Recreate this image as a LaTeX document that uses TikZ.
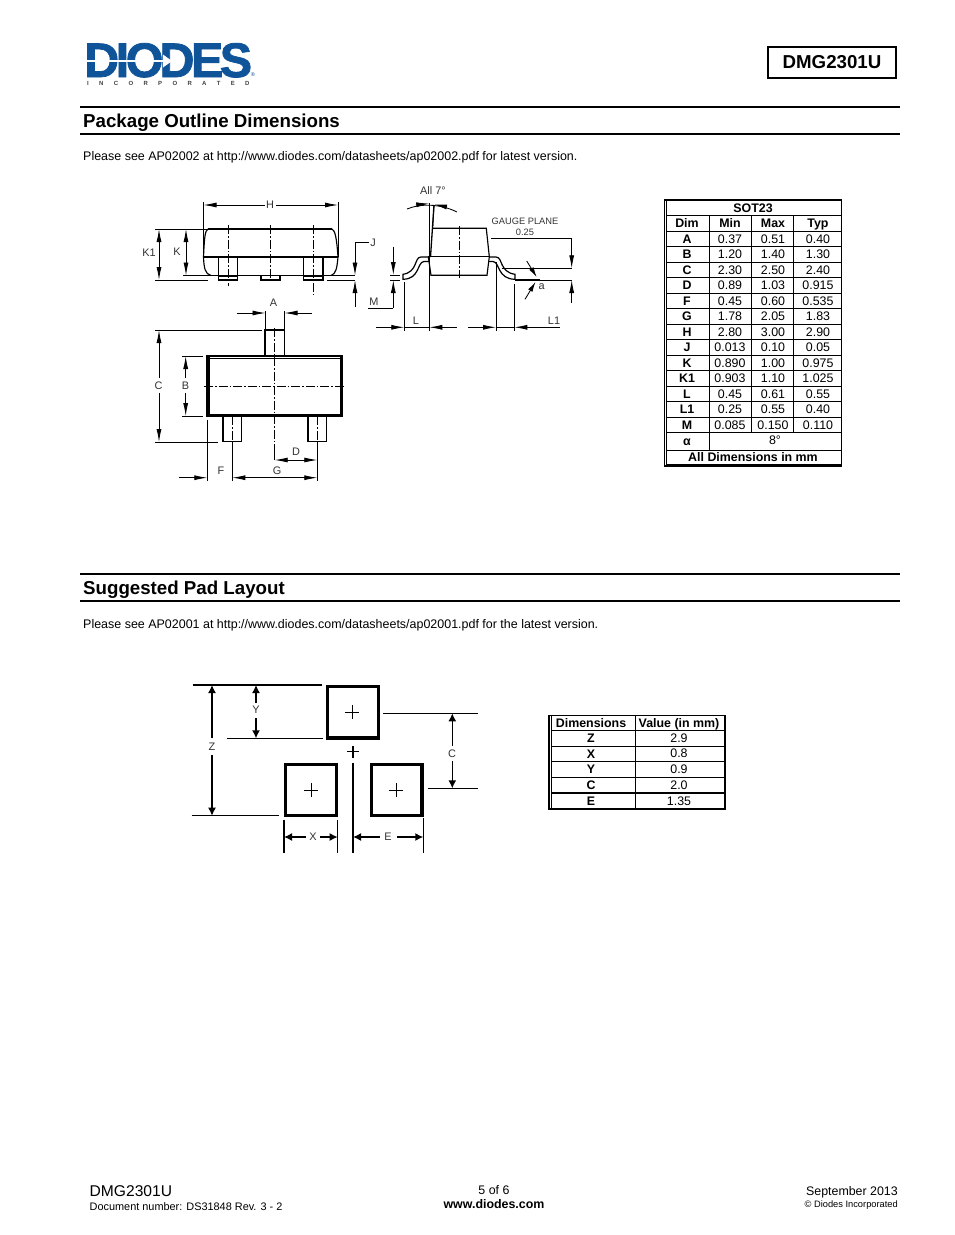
\documentclass[tikz,border=0pt]{standalone}
\usepackage{fontspec}
\setmainfont{Liberation Sans}
\newfontfamily\logofont[BoldFeatures={FakeBold=1.6}]{Liberation Sans}
\newfontfamily\logosubfont[BoldFeatures={WordSpace=6.2}]{Liberation Sans}
\usetikzlibrary{arrows.meta}
\definecolor{logoblue}{HTML}{0F5499}
\tikzset{
  outline/.style={line width=1.15pt},
  extline/.style={line width=.85pt},
  cline/.style={line width=.75pt,dash pattern=on 9pt off 2pt on 1.5pt off 2pt},
  dimline/.style={line width=.85pt,arrows={Latex[length=13pt,width=5pt]-Latex[length=13pt,width=5pt]}},
  dimend/.style={line width=.85pt,arrows={-Latex[length=13pt,width=5pt]}},
  padline/.style={line width=1.4pt},
  paddim/.style={line width=1.4pt,arrows={Latex[length=8pt,width=8pt]-Latex[length=8pt,width=8pt]}},
  padbox/.style={line width=3.2pt},
  dimtext/.style={font=\fontsize{10.9}{12}\selectfont,inner sep=1pt,text=black!80},
  dimgap/.style={dimtext,fill=white,minimum height=15pt},
  dimgapx/.style={dimtext,fill=white,minimum width=14pt,minimum height=8pt},
  cell/.style={font=\fontsize{12.4}{14}\selectfont,anchor=base,inner sep=0pt},
  cellb/.style={cell,font=\fontsize{12.4}{14}\selectfont\bfseries},
  heading/.style={font=\fontsize{18.7}{20}\selectfont\bfseries,anchor=base west,inner sep=0pt},
  plain/.style={font=\fontsize{12.47}{14}\selectfont,anchor=base west,inner sep=0pt},
  tabline/.style={line width=.9pt},
}
\begin{document}
\begin{tikzpicture}[x=1pt,y=-1pt]
\useasboundingbox (0,0) rectangle (954,1235);

% logo
\node[font=\logofont\fontsize{48.5}{50}\selectfont\bfseries,text=logoblue,anchor=base west,inner sep=0pt] (logo) at (84,77)
  {D\kern-3.5pt I\kern-3.5pt O\kern-4pt D\kern-3.5pt E\kern-3.5pt S};
\draw[white,line width=1.3pt] (86,61) -- (168,61);
\fill[white] (163,54.5) -- (172,61) -- (163,67.5) -- cycle;
\node[font=\logosubfont\fontsize{6}{6}\selectfont\bfseries,text=black!75,anchor=base west,inner sep=0pt] (logosub) at (87,85)
  {I N C O R P O R A T E D};
\node[font=\fontsize{5.5}{6}\selectfont,text=logoblue,inner sep=0pt] (logoreg) at (253,75) {®};

\node[draw,line width=1.2pt,minimum width=128pt,minimum height=31pt,inner sep=0pt,font=\fontsize{18.7}{20}\selectfont\bfseries] (part) at (832,62.5) {DMG2301U};

% package outline
\draw[line width=1.6pt] (80,107) -- (900,107);
\draw[line width=1.6pt] (80,134) -- (900,134);
\node[heading] (title1) at (83,127) {Package Outline Dimensions};
\node[plain] (note1) at (83,160) {Please see AP02002 at http://www.diodes.com/datasheets/ap02002.pdf for latest version.};

% side view, front
\draw[line width=1.5pt] (208,229) -- (332,229);
\draw[outline] (208,229) .. controls (205,231) and (204.5,236) .. (203.5,257) .. controls (204,268) and (205,274) .. (211,275.5);
\draw[outline] (332,229) .. controls (335,231) and (336.5,236) .. (338,257) .. controls (337,268) and (336,274) .. (331,275.5);
\draw[outline] (203.5,257) -- (338,257);
\draw[outline] (218.5,257) rectangle (237.5,280);
\draw[outline] (303.5,257) rectangle (323,280);
\draw[outline] (261,275.5) -- (261,280) -- (280,280) -- (280,275.5);
\fill (218.5,275) rectangle (237.5,277);
\fill (303.5,275) rectangle (323,277);
\draw[extline] (183,275.5) -- (218.5,275.5);
\draw[extline] (237.5,275.5) -- (303.5,275.5);
\draw[extline] (323,275.5) -- (355,275.5);
\draw[extline] (155,280) -- (208,280);
\draw[extline] (327,280) -- (355,280);
\draw[extline] (155,229) -- (208,229);
\draw[extline] (203.5,202) -- (203.5,257);
\draw[extline] (338,202) -- (338,257);
\draw[cline] (228,225) -- (228,286);
\draw[cline] (270,225) -- (270,280);
\draw[cline] (313,225) -- (313,295);
\draw[dimline] (203.5,205) -- (338,205);
\node[dimgapx,minimum width=11pt] (dimH) at (270,205) {H};
\draw[dimline] (159,229) -- (159,280);
\node[dimtext] (dimKa) at (149,253) {K1};
\draw[dimline] (186,229) -- (186,275.5);
\node[dimtext] (dimK) at (177,252) {K};
\draw[extline] (355,242) -- (369,242);
\draw[dimend] (355,242) -- (355,275.5);
\draw[dimend] (355,307) -- (355,280);
\node[dimtext] (dimJ) at (373,243) {J};

% top view
\draw[dimend] (237,313) -- (265.5,313);
\draw[dimend] (312,313) -- (284.5,313);
\draw[extline] (265.5,311) -- (265.5,329);
\draw[extline] (284.5,311) -- (284.5,329);
\node[dimtext] (dimA) at (273.5,302.5) {A};
\draw[line width=1.3pt] (265,356) -- (265,330) -- (284.5,330) -- (284.5,356);
\draw[line width=1.2pt] (207,356) rectangle (342.5,416);
\fill (207,356) rectangle (210,416);
\fill (339.5,356) rectangle (342.5,416);
\fill (207,413.5) rectangle (342.5,416);
\draw[extline] (207,358) -- (342.5,358);
\draw[line width=1.3pt] (223,416) -- (223,441.5) -- (241.5,441.5) -- (241.5,416);
\draw[line width=1.3pt] (308,416) -- (308,441.5) -- (326.5,441.5) -- (326.5,416);
\draw[cline] (204,386) -- (345,386);
\draw[cline] (274.7,328) -- (274.7,445);
\draw[extline] (274.7,445) -- (274.7,460);
\draw[cline] (232.3,416) -- (232.3,442);
\draw[extline] (232.3,442) -- (232.3,481);
\draw[cline] (317.3,416) -- (317.3,442);
\draw[extline] (317.3,442) -- (317.3,481);
\draw[extline] (155,330) -- (262,330);
\draw[extline] (155,442) -- (218,442);
\draw[extline] (182,356) -- (203,356);
\draw[extline] (182,416) -- (203,416);
\draw[extline] (207.3,420) -- (207.3,481);
\draw[dimline] (159,330) -- (159,442);
\node[dimgap] (dimC) at (158.5,385.5) {C};
\draw[dimline] (185.7,356) -- (185.7,416);
\node[dimgap] (dimB) at (185.5,385.5) {B};
\draw[dimline] (274.7,460) -- (317.3,460);
\node[dimtext] (dimD) at (296,452) {D};
\draw[dimend] (179,477.7) -- (207.3,477.7);
\draw[dimline] (232.3,477.7) -- (317.3,477.7);
\node[dimtext] (dimF) at (221,471) {F};
\node[dimtext] (dimG) at (277,471) {G};

% side view, end
\node[dimtext] (allseven) at (433,191) {All 7°};
\draw[extline] (429.3,203) -- (429.3,331);
\draw[extline] (434,205) -- (432.7,228);
\draw[line width=1.3pt] (434,205) -- (430.5,257);
\draw[outline] (432.7,228.3) -- (486.3,228.3) -- (489.3,256.7) -- (487,275.3) -- (431,275.3) -- (428.3,256.7);
\draw[outline] (428.3,256.7) -- (489.3,256.7);
\draw[cline] (459.3,226) -- (459.3,278);
\draw[extline] (407,209) .. controls (420,203.5) and (440,203.5) .. (457,212);
\draw[dimend] (416,204.8) -- (429.3,203.6);
\draw[dimend] (447,207) -- (434,204.4);
\draw[line width=1.2pt] (428.3,257) -- (421,257) .. controls (414,257) and (418,272) .. (403,274.3) -- (403,279.3) .. controls (420,279) and (417,262) .. (424,261.5) -- (429,261.5);
\draw[line width=1.2pt] (489.3,257) -- (496,257) .. controls (503,257) and (499,272) .. (515,274.3) -- (515,279.3) .. controls (497,279) and (500,262) .. (493,261.5) -- (488.7,261.5);
\draw[extline] (491,238.3) -- (571.7,238.3);
\draw[extline] (501.7,268.3) -- (571.7,268.3);
\draw[extline] (515,280) -- (571.7,280);
\draw[line width=1.3pt] (515,280) -- (540,280);
\draw[dimend] (571.7,238.3) -- (571.7,268.3);
\draw[dimend] (571.7,302.7) -- (571.7,280);
\draw[extline,arrows={-Latex[length=10pt,width=5pt]}] (526.7,261) -- (536.7,277);
\draw[extline,arrows={-Latex[length=10pt,width=5pt]}] (525,299.3) -- (535.5,282);
\node[font=\fontsize{9.3}{10}\selectfont,inner sep=0pt,text=black!80] (gauge) at (525,221) {GAUGE PLANE};
\node[font=\fontsize{9.3}{10}\selectfont,inner sep=0pt,text=black!80] (gaugeval) at (525,232) {0.25};
\node[dimtext] (dima) at (541.7,286.7) {a};
\draw[extline] (368,308) -- (393.3,308);
\draw[dimend] (393.3,246.7) -- (393.3,275);
\draw[dimend] (393.3,308) -- (393.3,280);
\draw[extline] (390,275) -- (400,275);
\draw[extline] (390,280) -- (400,280);
\node[dimtext] (dimM) at (374,302) {M};
\draw[extline] (404.3,282) -- (404.3,331);
\draw[extline] (496,262) -- (496,331);
\draw[extline] (514.3,284) -- (514.3,331);
\draw[dimend] (376,327.3) -- (404.3,327.3);
\draw[extline] (404.3,327.3) -- (429.3,327.3);
\draw[dimend] (456.7,327.3) -- (429.3,327.3);
\draw[dimend] (468,327.3) -- (496,327.3);
\draw[extline] (496,327.3) -- (514.3,327.3);
\draw[dimend] (560,327.3) -- (514.3,327.3);
\node[dimtext] (dimL) at (416,321) {L};
\node[dimtext] (dimLa) at (554,321) {L1};

% dimension table
\draw[line width=1.4pt] (664.5,199.8) rectangle (841.3,466);
\draw[tabline] (666.7,201) -- (666.7,464.5);
\draw[tabline] (666.7,464.5) -- (841,464.5);
\draw[tabline] (666.7,215.5) -- (841,215.5);
\draw[tabline] (666.7,231) -- (841,231);
\draw[tabline] (666.7,246.5) -- (841,246.5);
\draw[tabline] (666.7,262) -- (841,262);
\draw[tabline] (666.7,277.5) -- (841,277.5);
\draw[tabline] (666.7,293) -- (841,293);
\draw[tabline] (666.7,308.5) -- (841,308.5);
\draw[tabline] (666.7,324) -- (841,324);
\draw[tabline] (666.7,339.5) -- (841,339.5);
\draw[tabline] (666.7,355) -- (841,355);
\draw[tabline] (666.7,370.5) -- (841,370.5);
\draw[tabline] (666.7,386) -- (841,386);
\draw[tabline] (666.7,401.5) -- (841,401.5);
\draw[tabline] (666.7,417) -- (841,417);
\draw[tabline] (666.7,432.5) -- (841,432.5);
\draw[tabline] (666.7,450) -- (841,450);
\draw[tabline] (709,215.5) -- (709,450);
\draw[tabline] (751,215.5) -- (751,432.5);
\draw[tabline] (793,215.5) -- (793,432.5);

\node[cellb] (tSOT) at (753,212.5) {SOT23};
\node[cellb] (tDim) at (687,227.5) {Dim};
\node[cellb] (tMin) at (730,227.5) {Min};
\node[cellb] (tMax) at (773,227.5) {Max};
\node[cellb] (tTyp) at (818,227.5) {Typ};
\node[cellb] (tA) at (687,243.5) {A};
\node[cell] (tA1) at (730,243.5) {0.37};
\node[cell] (tA2) at (773,243.5) {0.51};
\node[cell] (tA3) at (818,243.5) {0.40};
\node[cellb] (tB) at (687,258.5) {B};
\node[cell] (tB1) at (730,258.5) {1.20};
\node[cell] (tB2) at (773,258.5) {1.40};
\node[cell] (tB3) at (818,258.5) {1.30};
\node[cellb] (tC) at (687,274) {C};
\node[cell] (tC1) at (730,274) {2.30};
\node[cell] (tC2) at (773,274) {2.50};
\node[cell] (tC3) at (818,274) {2.40};
\node[cellb] (tD) at (687,289.5) {D};
\node[cell] (tD1) at (730,289.5) {0.89};
\node[cell] (tD2) at (773,289.5) {1.03};
\node[cell] (tD3) at (818,289.5) {0.915};
\node[cellb] (tF) at (687,305) {F};
\node[cell] (tF1) at (730,305) {0.45};
\node[cell] (tF2) at (773,305) {0.60};
\node[cell] (tF3) at (818,305) {0.535};
\node[cellb] (tG) at (687,320.5) {G};
\node[cell] (tG1) at (730,320.5) {1.78};
\node[cell] (tG2) at (773,320.5) {2.05};
\node[cell] (tG3) at (818,320.5) {1.83};
\node[cellb] (tH) at (687,336) {H};
\node[cell] (tH1) at (730,336) {2.80};
\node[cell] (tH2) at (773,336) {3.00};
\node[cell] (tH3) at (818,336) {2.90};
\node[cellb] (tJ) at (687,351.5) {J};
\node[cell] (tJ1) at (730,351.5) {0.013};
\node[cell] (tJ2) at (773,351.5) {0.10};
\node[cell] (tJ3) at (818,351.5) {0.05};
\node[cellb] (tK) at (687,367) {K};
\node[cell] (tK1) at (730,367) {0.890};
\node[cell] (tK2) at (773,367) {1.00};
\node[cell] (tK3) at (818,367) {0.975};
\node[cellb] (tKa) at (687,382.5) {K1};
\node[cell] (tKa1) at (730,382.5) {0.903};
\node[cell] (tKa2) at (773,382.5) {1.10};
\node[cell] (tKa3) at (818,382.5) {1.025};
\node[cellb] (tL) at (687,398) {L};
\node[cell] (tL1) at (730,398) {0.45};
\node[cell] (tL2) at (773,398) {0.61};
\node[cell] (tL3) at (818,398) {0.55};
\node[cellb] (tLa) at (687,413.5) {L1};
\node[cell] (tLa1) at (730,413.5) {0.25};
\node[cell] (tLa2) at (773,413.5) {0.55};
\node[cell] (tLa3) at (818,413.5) {0.40};
\node[cellb] (tM) at (687,429) {M};
\node[cell] (tM1) at (730,429) {0.085};
\node[cell] (tM2) at (773,429) {0.150};
\node[cell] (tM3) at (818,429) {0.110};
\node[cellb] (tal) at (687,445) {α};
\node[cell] (tal1) at (775,444) {8°};
\node[cellb] (tall) at (753,461) {All Dimensions in mm};

% pad layout
\draw[line width=1.6pt] (80,574) -- (900,574);
\draw[line width=1.6pt] (80,601) -- (900,601);
\node[heading] (title2) at (83,594.5) {Suggested Pad Layout};
\node[plain] (note2) at (83,628) {Please see AP02001 at http://www.diodes.com/datasheets/ap02001.pdf for the latest version.};

\draw[padbox] (327.5,686.5) rectangle (378.7,738);
\draw[padbox] (285.5,764.2) rectangle (336.5,815.5);
\draw[padbox] (371.3,764.2) rectangle (422,815.5);
\draw[padline] (345.3,712.3) -- (359.3,712.3);
\draw[padline] (352.3,705.3) -- (352.3,719.3);
\draw[padline] (347,751.7) -- (359,751.7);
\draw[padline] (353,745.7) -- (353,757.7);
\draw[line width=1pt] (304,790) -- (318,790);
\draw[line width=1pt] (311,783) -- (311,797);
\draw[line width=.8pt] (389,790) -- (403,790);
\draw[line width=.8pt] (396,783) -- (396,797);

\draw[padline] (192.7,685) -- (321.7,685);
\draw[padline] (226.7,738.3) -- (322.7,738.3);
\draw[padline] (191.7,815.7) -- (279,815.7);
\draw[padline] (383.3,713.3) -- (477.7,713.3);
\draw[padline] (428.3,788.3) -- (477.7,788.3);
\draw[padline] (284,820) -- (284,852.7);
\draw[padline] (337.7,820) -- (337.7,852.7);
\draw[padline] (353,763) -- (353,852.7);
\draw[line width=.7pt] (423.3,818) -- (423.3,852.7);
\draw[paddim] (212,685) -- (212,815.7);
\node[dimgap,minimum height=17pt] (padZ) at (212,746.5) {Z};
\draw[paddim] (256,685) -- (256,738.3);
\node[dimgap] (padY) at (256,710) {Y};
\draw[paddim] (452.3,713.3) -- (452.3,788.3);
\node[dimgap] (padC) at (452,753.5) {C};
\draw[paddim] (284,837) -- (337.7,837);
\node[dimgapx] (padX) at (313,837) {X};
\draw[paddim] (353,837) -- (423.3,837);
\node[dimgapx,minimum width=17pt] (padE) at (388,837) {E};

% pad table
\draw[line width=1.4pt] (549,715.3) rectangle (725,809);
\draw[tabline] (551,716) -- (551,808.5);
\draw[tabline] (635,715.3) -- (635,809);
\draw[tabline] (551,730.5) -- (725,730.5);
\draw[tabline] (551,746) -- (725,746);
\draw[tabline] (551,761.5) -- (725,761.5);
\draw[tabline] (551,777) -- (725,777);
\draw[line width=1.4pt] (551,793) -- (725,793);
\node[cellb] (pDim) at (591,727.5) {Dimensions};
\node[cellb] (pVal) at (679,727.5) {Value (in mm)};
\node[cellb] (pZ) at (591,742.5) {Z};
\node[cell] (pZ1) at (679,742) {2.9};
\node[cellb] (pX) at (591,758) {X};
\node[cell] (pX1) at (679,757.5) {0.8};
\node[cellb] (pY) at (591,773.5) {Y};
\node[cell] (pY1) at (679,773) {0.9};
\node[cellb] (pC) at (591,789.5) {C};
\node[cell] (pC1) at (679,789) {2.0};
\node[cellb] (pE) at (591,805) {E};
\node[cell] (pE1) at (679,805) {1.35};

% footer
\node[font=\fontsize{15.6}{16}\selectfont,anchor=base west,inner sep=0pt] (footpart) at (89.5,1196) {DMG2301U};
\node[font=\fontsize{10.9}{12}\selectfont,anchor=base west,inner sep=0pt] (footdoc) at (89.5,1210) {Document number: DS31848 Rev. 3 - 2};
\node[font=\fontsize{12.4}{14}\selectfont,anchor=base,inner sep=0pt] (footpage) at (494,1194) {5 of 6};
\node[font=\fontsize{12.4}{14}\selectfont\bfseries,anchor=base,inner sep=0pt] (footweb) at (494,1208) {www.diodes.com};
\node[font=\fontsize{12.4}{14}\selectfont,anchor=base east,inner sep=0pt] (footdate) at (898,1195.5) {September 2013};
\node[font=\fontsize{9.3}{10}\selectfont,anchor=base east,inner sep=0pt] (footcopy) at (898,1207) {© Diodes Incorporated};
\end{tikzpicture}
\end{document}
